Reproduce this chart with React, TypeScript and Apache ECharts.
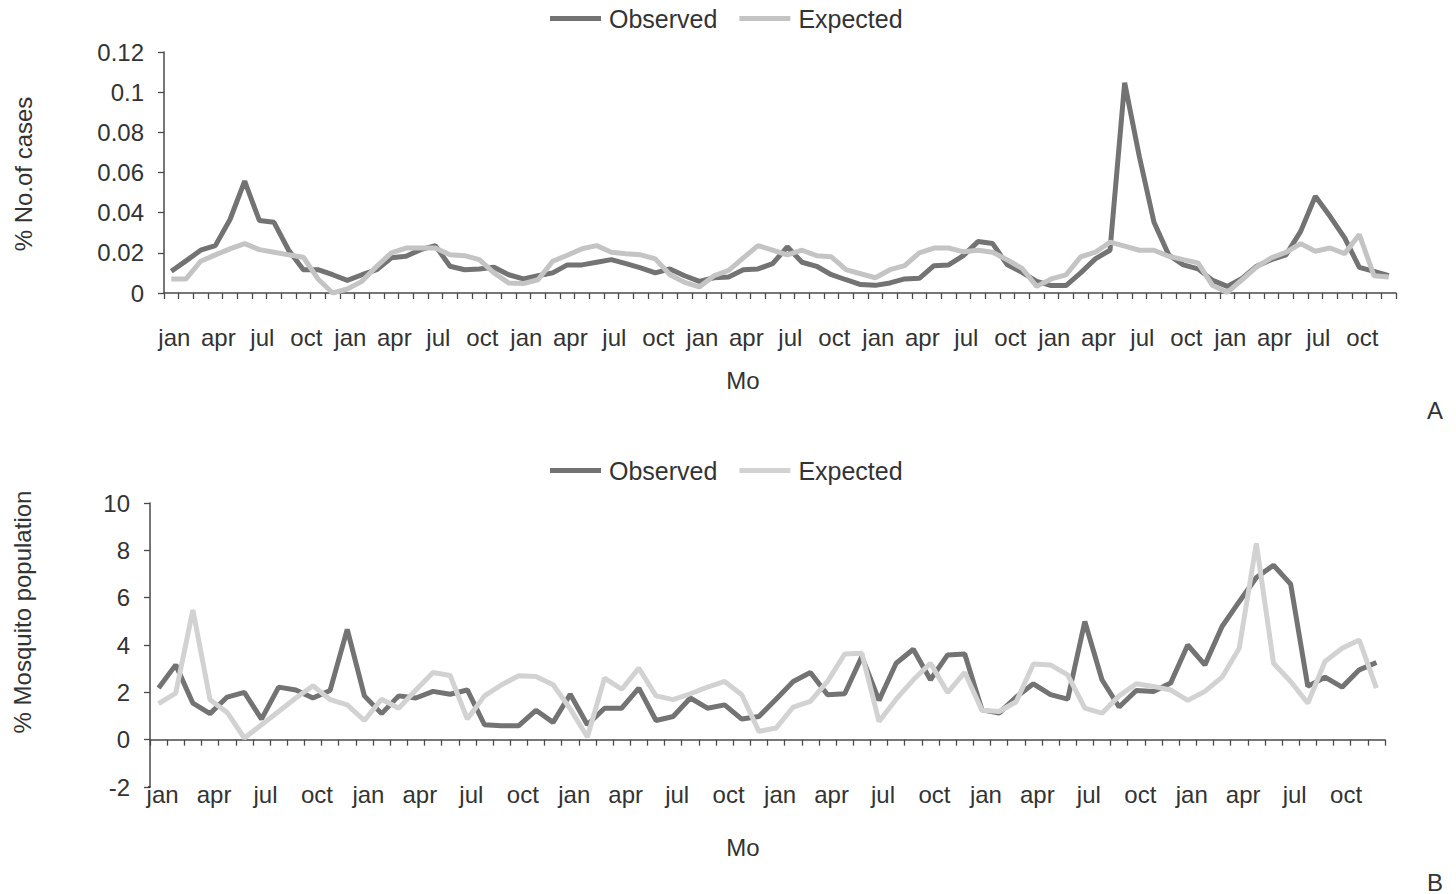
import React, { useEffect, useRef } from "react";
import * as echarts from "echarts";

const monthNames = ["jan", "feb", "mar", "apr", "may", "jun", "jul", "aug", "sep", "oct", "nov", "dec"];
const casesMonths: string[] = Array.from({ length: 84 }, (_, i) => monthNames[i % 12]);
const mosqMonths: string[] = Array.from({ length: 72 }, (_, i) => monthNames[i % 12]);

const casesObserved = [
  0.0108, 0.016, 0.0213, 0.0236, 0.0366, 0.0557, 0.0361, 0.0352, 0.0213, 0.0116,
  0.0116, 0.0091, 0.0063, 0.0091, 0.0116, 0.0175, 0.0183, 0.0216, 0.0236, 0.0133,
  0.0116, 0.012, 0.0128, 0.0091, 0.007, 0.0086, 0.01, 0.014, 0.014, 0.0153,
  0.0166, 0.0146, 0.0125, 0.01, 0.012, 0.0086, 0.0058, 0.0076, 0.008, 0.0116,
  0.012, 0.0146, 0.023, 0.0153, 0.0133, 0.0091, 0.0066, 0.0042, 0.0038, 0.005,
  0.007, 0.0073, 0.0136, 0.014, 0.0186, 0.0256, 0.0246, 0.014, 0.0103, 0.0058,
  0.0037, 0.0037, 0.01, 0.017, 0.0213, 0.1047, 0.068, 0.0352, 0.019, 0.014,
  0.012, 0.0063, 0.0033, 0.0073, 0.0133, 0.0166, 0.019, 0.0307, 0.0482, 0.0382,
  0.0274, 0.0128, 0.0108, 0.0086,
];

const casesExpected = [
  0.007, 0.007, 0.0158, 0.019, 0.022, 0.0246, 0.0216, 0.0203, 0.019, 0.0178,
  0.007, 0.0, 0.002, 0.0058, 0.0133, 0.02, 0.0224, 0.0224, 0.0224, 0.019,
  0.0186, 0.0166, 0.01, 0.005, 0.0047, 0.0066, 0.0158, 0.0188, 0.022, 0.0236,
  0.0203, 0.0196, 0.019, 0.017, 0.0091, 0.0053, 0.003, 0.0086, 0.0113, 0.0175,
  0.0236, 0.0213, 0.019, 0.0213, 0.0186, 0.018, 0.0116, 0.0096, 0.0076, 0.0116,
  0.0136, 0.02, 0.0224, 0.0224, 0.0205, 0.0213, 0.0203, 0.0165, 0.0123, 0.0033,
  0.007, 0.009, 0.018, 0.0203, 0.0253, 0.0233, 0.0213, 0.0213, 0.0183, 0.0166,
  0.015, 0.0037, 0.0003, 0.0066, 0.013, 0.0175, 0.0203, 0.0246, 0.0208, 0.0224,
  0.0196, 0.0291, 0.0086, 0.008,
];

const mosqObserved = [
  2.18, 3.16, 1.54, 1.1, 1.8, 2.0, 0.87, 2.22, 2.1, 1.76,
  2.08, 4.66, 1.85, 1.1, 1.85, 1.76, 2.04, 1.92, 2.1, 0.63,
  0.59, 0.59, 1.24, 0.73, 1.92, 0.63, 1.33, 1.33, 2.18, 0.81,
  0.98, 1.76, 1.33, 1.47, 0.87, 0.98, 1.71, 2.46, 2.84, 1.9,
  1.94, 3.51, 1.66, 3.23, 3.82, 2.53, 3.58, 3.62, 1.26, 1.12,
  1.8, 2.36, 1.9, 1.71, 4.99, 2.53, 1.38, 2.08, 2.04, 2.39,
  4.0, 3.16, 4.78, 5.83, 6.85, 7.37, 6.57, 2.25, 2.64, 2.22,
  2.95, 3.26,
];

const mosqExpected = [
  1.52, 1.97, 5.48, 1.69, 1.15, 0.07, 0.63, 1.19, 1.76, 2.28,
  1.69, 1.47, 0.81, 1.71, 1.33, 2.1, 2.84, 2.71, 0.87, 1.85,
  2.32, 2.7, 2.67, 2.32, 1.3, 0.11, 2.6, 2.13, 3.02, 1.85,
  1.69, 1.94, 2.22, 2.46, 1.9, 0.35, 0.49, 1.38, 1.62, 2.46,
  3.62, 3.65, 0.77, 1.71, 2.53, 3.23, 1.99, 2.84, 1.24, 1.19,
  1.6, 3.2, 3.16, 2.74, 1.33, 1.12, 1.85, 2.36, 2.25, 2.1,
  1.66, 2.04, 2.64, 3.86, 8.29, 3.23, 2.46, 1.54, 3.3, 3.86,
  4.21, 2.18,
];

const seriesNames = ["Observed", "Expected"];

const FONT = "'Liberation Sans', Arial, Helvetica, sans-serif";
const TEXT = "#333333";
const AXIS = "#4a4a4a";
const OBS = "#737373";
const EXP_TOP = "#c4c4c4";
const EXP_BOT = "#d2d2d2";
const LW = 5;

export default function App() {
  const ref = useRef<HTMLDivElement>(null);

  useEffect(() => {
    if (!ref.current) return;
    const chart = echarts.init(ref.current, undefined, { renderer: "svg" });

    const axisLine = { show: true, onZero: true, lineStyle: { color: AXIS, width: 1.5 } };
    const axisTick = { show: true, length: 6, lineStyle: { color: AXIS, width: 1.3 } };

    const legendBase = (top: number, expColor: string) => ({
      top,
      left: 545,
      icon: "rect",
      itemWidth: 51,
      itemHeight: 5,
      itemGap: 22,
      textStyle: { fontSize: 25, color: TEXT, fontFamily: FONT, padding: [0, 0, 0, 3] },
      data: [
        { name: seriesNames[0], itemStyle: { color: OBS } },
        { name: seriesNames[1], itemStyle: { color: expColor } },
      ],
    });

    const option: any = {
      animation: false,
      backgroundColor: "#ffffff",
      textStyle: { fontFamily: FONT },
      legend: [legendBase(1, EXP_TOP), legendBase(453, EXP_BOT)],
      grid: [
        { left: 164, top: 52, width: 1232, height: 241, containLabel: false },
        { left: 150, top: 503, width: 1235, height: 284, containLabel: false },
      ],
      xAxis: [
        {
          type: "category",
          gridIndex: 0,
          data: casesMonths,
          boundaryGap: true,
          axisLine,
          axisTick: { ...axisTick, interval: 0 },
          axisLabel: {
            interval: 2,
            fontSize: 24,
            color: TEXT,
            fontFamily: FONT,
            margin: 32,
            padding: [0, 0, 0, 6],
          },
          splitLine: { show: false },
        },
        {
          type: "category",
          gridIndex: 1,
          data: mosqMonths,
          boundaryGap: true,
          axisLine,
          axisTick: { ...axisTick, interval: 0 },
          axisLabel: {
            interval: 2,
            fontSize: 24,
            color: TEXT,
            fontFamily: FONT,
            margin: -5,
            padding: [0, 0, 0, 8],
          },
          splitLine: { show: false },
        },
      ],
      yAxis: [
        {
          type: "value",
          gridIndex: 0,
          min: 0,
          max: 0.12,
          interval: 0.02,
          axisLine,
          axisTick,
          splitLine: { show: false },
          axisLabel: {
            fontSize: 24,
            color: TEXT,
            fontFamily: FONT,
            margin: 20,
            formatter: (v: number) => String(+v.toFixed(2)),
          },
        },
        {
          type: "value",
          gridIndex: 1,
          min: -2,
          max: 10,
          interval: 2,
          axisLine,
          axisTick,
          splitLine: { show: false },
          axisLabel: { fontSize: 24, color: TEXT, fontFamily: FONT, margin: 20 },
        },
      ],
      series: [
        {
          name: seriesNames[0],
          type: "line",
          xAxisIndex: 0,
          yAxisIndex: 0,
          data: casesObserved,
          showSymbol: false,
          symbol: "none",
          lineStyle: { color: OBS, width: LW },
          itemStyle: { color: OBS },
        },
        {
          name: seriesNames[1],
          type: "line",
          xAxisIndex: 0,
          yAxisIndex: 0,
          data: casesExpected,
          showSymbol: false,
          symbol: "none",
          lineStyle: { color: EXP_TOP, width: LW },
          itemStyle: { color: EXP_TOP },
        },
        {
          name: seriesNames[0],
          type: "line",
          xAxisIndex: 1,
          yAxisIndex: 1,
          data: mosqObserved,
          showSymbol: false,
          symbol: "none",
          lineStyle: { color: OBS, width: LW },
          itemStyle: { color: OBS },
        },
        {
          name: seriesNames[1],
          type: "line",
          xAxisIndex: 1,
          yAxisIndex: 1,
          data: mosqExpected,
          showSymbol: false,
          symbol: "none",
          lineStyle: { color: EXP_BOT, width: LW },
          itemStyle: { color: EXP_BOT },
        },
      ],
      graphic: [
        {
          type: "text",
          x: 23,
          y: 174,
          rotation: Math.PI / 2,
          style: { text: "% No.of cases", fontSize: 24, fontFamily: FONT, fill: TEXT, align: "center", verticalAlign: "middle" },
        },
        {
          type: "text",
          x: 22,
          y: 612,
          rotation: Math.PI / 2,
          style: { text: "% Mosquito population", fontSize: 24, fontFamily: FONT, fill: TEXT, align: "center", verticalAlign: "middle" },
        },
        {
          type: "text",
          x: 743,
          y: 380,
          style: { text: "Mo", fontSize: 24, fontFamily: FONT, fill: TEXT, align: "center", verticalAlign: "middle" },
        },
        {
          type: "text",
          x: 743,
          y: 847,
          style: { text: "Mo", fontSize: 24, fontFamily: FONT, fill: TEXT, align: "center", verticalAlign: "middle" },
        },
        {
          type: "text",
          x: 1435,
          y: 410,
          style: { text: "A", fontSize: 24, fontFamily: FONT, fill: TEXT, align: "center", verticalAlign: "middle" },
        },
        {
          type: "text",
          x: 1435,
          y: 882,
          style: { text: "B", fontSize: 24, fontFamily: FONT, fill: TEXT, align: "center", verticalAlign: "middle" },
        },
      ],
    };

    chart.setOption(option);
    return () => chart.dispose();
  }, []);

  return (
    <div
      ref={ref}
      style={{ position: "absolute", left: 0, top: 0, width: 1456, height: 894, background: "#fff" }}
    />
  );
}
